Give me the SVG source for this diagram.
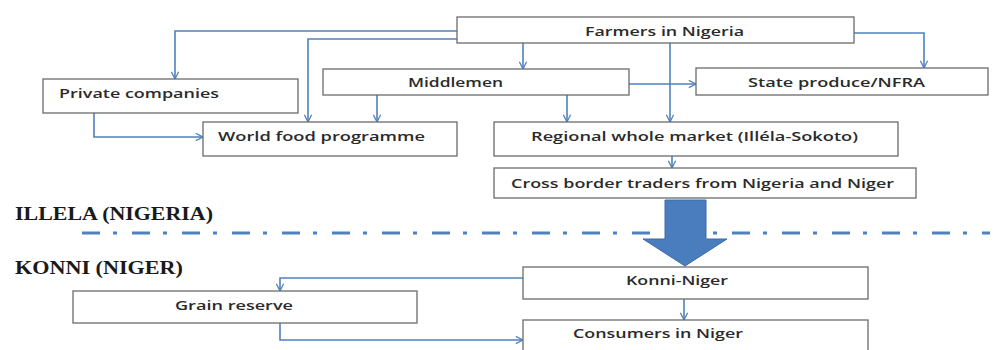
<svg xmlns="http://www.w3.org/2000/svg" width="996" height="350" viewBox="0 0 996 350">
<style>
.box{fill:#fff;stroke:#6b6b6b;stroke-width:1.3}
.t{font-family:"Open Sans","Liberation Sans",Arial,sans-serif;font-size:13px;font-weight:600;fill:#2a2a2a}
.lbl{font-family:"Liberation Serif","Times New Roman",serif;font-size:18px;font-weight:bold;fill:#1a1a1a}
.c{fill:none;stroke:#4f81bd;stroke-width:1.6;marker-end:url(#ah)}
</style>
<defs>
<marker id="ah" viewBox="0 0 10 10" refX="9" refY="5" markerWidth="9" markerHeight="9" markerUnits="userSpaceOnUse" orient="auto">
<path d="M1,1 L9,5 L1,9" fill="none" stroke="#4f81bd" stroke-width="1.4"/>
</marker>
</defs>
<rect width="996" height="350" fill="#fff"/>
<g id="labels">
<text class="lbl" x="15" y="220" textLength="198" lengthAdjust="spacingAndGlyphs">ILLELA (NIGERIA)</text>
<text class="lbl" x="15" y="274" textLength="168" lengthAdjust="spacingAndGlyphs">KONNI (NIGER)</text>
</g>
<g id="border">
<line x1="82" y1="233" x2="990" y2="233" stroke="#4f81bd" stroke-width="3" stroke-dasharray="18 13 4 15"/>
<rect x="657" y="226" width="56" height="14" fill="#fff"/>
</g>
<g id="connectors">
<path class="c" d="M457,31 H175 V79"/>
<path class="c" d="M457,39 H308 V122"/>
<path class="c" d="M523,43 V69"/>
<path class="c" d="M670,43 V122"/>
<path class="c" d="M854,33 H924 V68"/>
<path class="c" d="M377,95 V122"/>
<path class="c" d="M567,95 V122"/>
<path class="c" d="M629,84 H696"/>
<path class="c" d="M94,113 V137 H203"/>
<path class="c" d="M672,156 V168"/>
<path class="c" d="M523,278 H280 V291"/>
<path class="c" d="M280,323 V340 H523"/>
<path class="c" d="M684,299 V320"/>
</g>
<g id="bigarrow">
<path d="M665,200 H706 V239 H727 L685,266 L643,239 H665 Z" fill="#4a7dbd" stroke="#3d6aa6" stroke-width="1"/>
</g>
<g id="farmers">
<rect class="box" x="457" y="17" width="397" height="26"/>
<text class="t" x="585" y="36" textLength="159" lengthAdjust="spacingAndGlyphs">Farmers in Nigeria</text>
</g>
<g id="private">
<rect class="box" x="43" y="79" width="255" height="34"/>
<text class="t" x="59" y="98" textLength="160" lengthAdjust="spacingAndGlyphs">Private companies</text>
</g>
<g id="middlemen">
<rect class="box" x="323" y="69" width="306" height="26"/>
<text class="t" x="408" y="87" textLength="95" lengthAdjust="spacingAndGlyphs">Middlemen</text>
</g>
<g id="state">
<rect class="box" x="696" y="68" width="292" height="27"/>
<text class="t" x="748" y="87" textLength="177" lengthAdjust="spacingAndGlyphs">State produce/NFRA</text>
</g>
<g id="wfp">
<rect class="box" x="203" y="122" width="254" height="34"/>
<text class="t" x="218" y="141" textLength="207" lengthAdjust="spacingAndGlyphs">World food programme</text>
</g>
<g id="regional">
<rect class="box" x="494" y="122" width="404" height="34"/>
<text class="t" x="531" y="141" textLength="327" lengthAdjust="spacingAndGlyphs">Regional whole market (Illéla-Sokoto)</text>
</g>
<g id="crossborder">
<rect class="box" x="494" y="168" width="422" height="30"/>
<text class="t" x="511" y="188" textLength="383" lengthAdjust="spacingAndGlyphs">Cross border traders from Nigeria and Niger</text>
</g>
<g id="konni">
<rect class="box" x="523" y="267" width="345" height="32"/>
<text class="t" x="626" y="285" textLength="102" lengthAdjust="spacingAndGlyphs">Konni-Niger</text>
</g>
<g id="grain">
<rect class="box" x="73" y="291" width="344" height="32"/>
<text class="t" x="175" y="310" textLength="118" lengthAdjust="spacingAndGlyphs">Grain reserve</text>
</g>
<g id="consumers">
<rect class="box" x="523" y="320" width="345" height="40"/>
<text class="t" x="573" y="338" textLength="170" lengthAdjust="spacingAndGlyphs">Consumers in Niger</text>
</g>
</svg>
